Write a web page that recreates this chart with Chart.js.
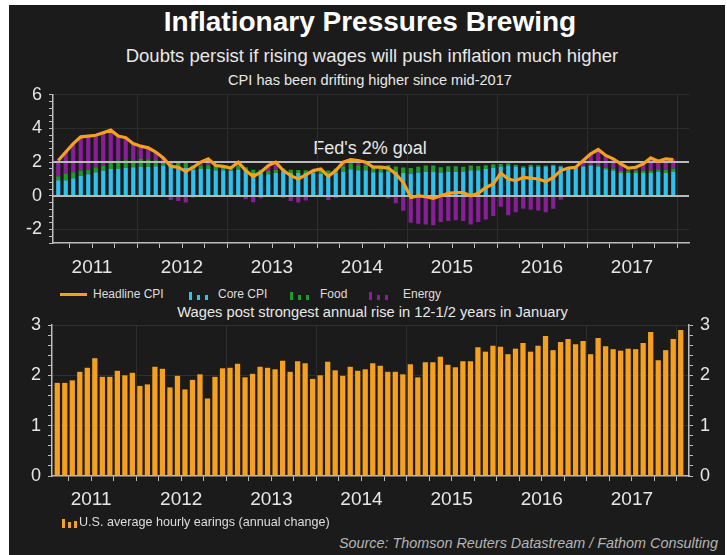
<!DOCTYPE html>
<html><head><meta charset="utf-8">
<script src="https://cdn.jsdelivr.net/npm/chart.js@4.4.0/dist/chart.umd.min.js"></script>
<style>
html,body{margin:0;padding:0;background:#fff;width:727px;height:555px;overflow:hidden;font-family:"Liberation Sans",Arial,sans-serif;}
#panel{position:absolute;left:9px;top:5px;width:716px;height:550px;background:#1b1b1b;}
.t{position:absolute;white-space:nowrap;color:#e8e8e8;line-height:1;}
canvas{position:absolute;left:0;}
.ic{position:absolute;height:10px;}
.ic i{position:absolute;bottom:0;width:3px;display:block;}
</style></head><body>
<div id="panel"></div>
<div class="t" style="left:0;width:740px;top:8px;text-align:center;font-size:28px;font-weight:bold;color:#fff">Inflationary Pressures Brewing</div>
<div class="t" style="left:0;width:744px;top:47px;text-align:center;font-size:18.5px;">Doubts persist if rising wages will push inflation much higher</div>
<div class="t" style="left:0;width:740px;top:73px;text-align:center;font-size:14.6px;">CPI has been drifting higher since mid-2017</div>
<div class="t" style="left:0;width:740px;top:139px;text-align:center;font-size:18px;">Fed's 2% goal</div>
<div class="t" style="left:0;width:745px;top:305px;text-align:center;font-size:14.7px;">Wages post strongest annual rise in 12-1/2 years in January</div>

<canvas id="top" width="727" height="208" style="top:77px"></canvas>
<canvas id="bot" width="727" height="215" style="top:305px"></canvas>

<!-- legends -->
<div style="position:absolute;left:60px;top:293px;width:27px;height:3px;background:#f5a01f"></div>
<div class="t" style="left:93px;top:288px;font-size:12px;color:#ddd">Headline CPI</div>
<div class="ic" style="left:189px;top:290px;"><i style="left:0;height:8px;background:#2ec1ee"></i><i style="left:8px;height:5px;background:#2ec1ee"></i><i style="left:16px;height:5px;background:#2ec1ee"></i></div>
<div class="t" style="left:218px;top:288px;font-size:12px;color:#ddd">Core CPI</div>
<div class="ic" style="left:290px;top:290px;"><i style="left:0;height:8px;background:#1f9a2c"></i><i style="left:8px;height:5px;background:#1f9a2c"></i><i style="left:16px;height:5px;background:#1f9a2c"></i></div>
<div class="t" style="left:320px;top:288px;font-size:12px;color:#ddd">Food</div>
<div class="ic" style="left:369px;top:290px;"><i style="left:0;height:8px;background:#8a1d99"></i><i style="left:8px;height:5px;background:#8a1d99"></i><i style="left:16px;height:5px;background:#8a1d99"></i></div>
<div class="t" style="left:403px;top:288px;font-size:12px;color:#ddd">Energy</div>

<div class="ic" style="left:62px;top:518px;"><i style="left:0;height:9px;background:#f5a01f"></i><i style="left:6px;height:6px;background:#f5a01f"></i><i style="left:12px;height:7px;background:#f5a01f"></i></div>
<div class="t" style="left:79px;top:516px;font-size:12.6px;color:#ddd">U.S. average hourly earings (annual change)</div>
<div class="t" style="right:9px;top:536px;font-size:14.4px;font-style:italic;color:#b5b5b5">Source: Thomson Reuters Datastream / Fathom Consulting</div>

<script>
// ---------- categories ----------
const monthNames = ['Jan','Feb','Mar','Apr','May','Jun','Jul','Aug','Sep','Oct','Nov','Dec'];
const months = []; // Feb 2011 .. Jan 2018
for (let i = 0; i < 84; i++) { const t = i + 1; months.push(monthNames[t % 12] + ' ' + (2011 + Math.floor(t / 12))); }
const cpiMonths = months.slice(0, 83); // Feb 2011 .. Dec 2017
const yearLabels = ['2011','2012','2013','2014','2015','2016','2017'];

// ---------- series (contributions, % pts) ----------
const headlineCPI = [
 2.1, 2.6, 3.1, 3.5, 3.55, 3.6, 3.75, 3.9, 3.55, 3.45, 3.1,
 2.95, 2.85, 2.6, 2.25, 1.75, 1.7, 1.45, 1.7, 2.0, 2.2, 1.8, 1.75,
 1.65, 2.0, 1.5, 1.15, 1.4, 1.8, 2.0, 1.5, 1.2, 1.0, 1.25, 1.5,
 1.6, 1.15, 1.5, 2.0, 2.15, 2.1, 2.0, 1.7, 1.7, 1.65, 1.3, 0.8,
 -0.1, 0.0, -0.05, -0.15, 0.0, 0.15, 0.2, 0.2, 0.0, 0.15, 0.5, 0.7,
 1.35, 1.0, 0.9, 1.1, 1.05, 1.0, 0.85, 1.1, 1.5, 1.65, 1.7, 2.1,
 2.5, 2.75, 2.4, 2.2, 1.9, 1.65, 1.7, 1.9, 2.25, 2.05, 2.2, 2.15
];
const coreCPI = [
 0.92, 0.92, 1.05, 1.2, 1.28, 1.4, 1.5, 1.6, 1.6, 1.66, 1.7,
 1.74, 1.72, 1.76, 1.78, 1.82, 1.74, 1.66, 1.55, 1.6, 1.6, 1.52, 1.52,
 1.5, 1.56, 1.5, 1.35, 1.35, 1.28, 1.35, 1.42, 1.35, 1.35, 1.35, 1.35,
 1.3, 1.3, 1.38, 1.45, 1.58, 1.52, 1.52, 1.4, 1.4, 1.46, 1.42, 1.36,
 1.3, 1.38, 1.45, 1.45, 1.38, 1.45, 1.45, 1.45, 1.52, 1.52, 1.6, 1.68,
 1.74, 1.8, 1.74, 1.66, 1.74, 1.74, 1.74, 1.8, 1.74, 1.66, 1.66, 1.74,
 1.8, 1.74, 1.58, 1.5, 1.36, 1.36, 1.36, 1.36, 1.36, 1.42, 1.36, 1.42
];
const foodCPI = [
 0.25, 0.4, 0.35, 0.3, 0.25, 0.3, 0.3, 0.4, 0.5, 0.45, 0.4,
 0.45, 0.45, 0.35, 0.25, 0.15, 0.25, 0.3, 0.25, 0.2, 0.22, 0.25, 0.25,
 0.22, 0.22, 0.2, 0.2, 0.2, 0.2, 0.2, 0.2, 0.2, 0.18, 0.17, 0.15,
 0.2, 0.2, 0.25, 0.3, 0.35, 0.3, 0.3, 0.3, 0.33, 0.35, 0.32, 0.33,
 0.35, 0.35, 0.35, 0.35, 0.32, 0.3, 0.3, 0.28, 0.28, 0.25, 0.22, 0.2,
 0.15, 0.12, 0.1, 0.1, 0.1, 0.08, 0.06, 0.05, 0.04, 0.03, 0.02, 0.02,
 0.05, 0.08, 0.1, 0.12, 0.12, 0.14, 0.15, 0.15, 0.15, 0.16, 0.18, 0.2
];
const energyCPI = [
 0.93, 1.28, 1.7, 2.0, 2.02, 1.9, 1.95, 1.9, 1.45, 1.34, 1.0,
 0.76, 0.68, 0.49, 0.22, -0.25, -0.3, -0.4, -0.1, 0.2, 0.38, 0.03, -0.02,
 -0.07, 0.22, -0.2, -0.38, -0.15, 0.32, 0.45, -0.12, -0.3, -0.4, -0.27, 0.0,
 0.1, -0.25, -0.13, 0.25, 0.22, 0.28, 0.18, 0.0, -0.03, -0.16, -0.44, -0.89,
 -1.6, -1.65, -1.7, -1.75, -1.55, -1.5, -1.45, -1.5, -1.7, -1.55, -1.4, -1.2,
 -0.65, -1.15, -0.97, -0.77, -0.83, -0.87, -0.97, -0.77, -0.23, -0.05, 0.02, 0.3,
 0.62, 0.95, 0.75, 0.6, 0.42, 0.15, 0.2, 0.4, 0.72, 0.48, 0.65, 0.55
];
const wages = [
 1.85, 1.85, 1.9, 2.07, 2.15, 2.34, 1.97, 1.97, 2.09, 2.0, 2.05, 1.79, 1.82,
 2.17, 2.13, 1.76, 1.99, 1.72, 1.91, 2.02, 1.54, 1.97, 2.14, 2.15, 2.23, 1.96,
 2.03, 2.17, 2.15, 2.12, 2.29, 2.07, 2.28, 2.24, 1.93, 2.0, 2.27, 2.1, 1.99,
 2.17, 2.09, 2.12, 2.24, 2.19, 2.07, 2.07, 2.02, 2.22, 1.96, 2.26, 2.26, 2.37,
 2.21, 2.16, 2.28, 2.28, 2.56, 2.47,
 2.59, 2.57, 2.42, 2.53, 2.64, 2.47, 2.59, 2.78, 2.5, 2.66, 2.72, 2.62, 2.68,
 2.42, 2.74, 2.58, 2.52, 2.49, 2.53, 2.52, 2.64, 2.86, 2.30, 2.50, 2.72, 2.90
];
const fedGoal = 2;

// ---------- tick positions derived from the month categories ----------
const quarterTicks = [], yearTicks = [], midYearTicks = [];
months.forEach((m, i) => {
  const mn = m.slice(0, 3);
  if (['Jan','Apr','Jul','Oct'].includes(mn)) quarterTicks.push(i - 0.5);
  if (mn === 'Jan') yearTicks.push(i - 0.5);
  if (mn === 'Jul') midYearTicks.push(i - 0.5);
});
const near = (a, b) => Math.abs(a - b) < 1e-6;
const xMin = -0.7, xMax = 84.1;

Chart.defaults.font.family = '"Liberation Sans", Arial, sans-serif';
Chart.defaults.color = '#e6e6e6';
const AX = '#bdbdbd';

function xScale(h, pad) {
  return {
    type: 'linear', min: xMin, max: xMax, offset: false, stacked: true,
    grid: { offset: false, color: c => yearTicks.some(v => near(v, c.tick.value)) ? '#2e2e2e' : 'rgba(0,0,0,0)', tickColor: AX, tickLength: 5 },
    border: { color: AX, width: 1.5 },
    ticks: { autoSkip: false, maxRotation: 0, padding: pad, font: { size: 19 }, color: '#e6e6e6',
      callback: v => { const k = midYearTicks.findIndex(t => near(t, v)); return k >= 0 ? yearLabels[k] : ''; } },
    afterBuildTicks: s => { s.ticks = quarterTicks.map(v => ({ value: v })); },
    afterFit: s => { s.height = h; }
  };
}

// ---------- top chart ----------
const topTicks = []; for (let n = -7; n <= 15; n++) topTicks.push(Math.round(n * 4) / 10);
const refLines = {
  id: 'refLines',
  beforeDatasetDraw(chart, args) {
    if (args.meta.type !== 'line') return;
    const { ctx, chartArea, scales } = chart;
    ctx.save(); ctx.strokeStyle = '#b9b9b9'; ctx.lineWidth = 2;
    [0, fedGoal].forEach(v => { const y = Math.round(scales.y.getPixelForValue(v)); ctx.beginPath(); ctx.moveTo(chartArea.left, y); ctx.lineTo(chartArea.right, y); ctx.stroke(); });
    ctx.restore();
  }
};
const idx83 = cpiMonths.map((m, i) => i);
new Chart(document.getElementById('top'), {
  type: 'bar',
  data: {
    labels: idx83,
    datasets: [
      { type: 'line', label: 'Headline CPI', data: headlineCPI, yAxisID: 'y2', borderColor: '#f5a01f', borderWidth: 3.2, pointRadius: 0, tension: 0, order: 0 },
      { label: 'Core CPI', data: coreCPI, backgroundColor: '#2ec1ee', stack: 'c', categoryPercentage: 1, barPercentage: 0.56, order: 1 },
      { label: 'Food', data: foodCPI, backgroundColor: '#1f9a2c', stack: 'c', categoryPercentage: 1, barPercentage: 0.56, order: 1 },
      { label: 'Energy', data: energyCPI, backgroundColor: '#8a1d99', stack: 'c', categoryPercentage: 1, barPercentage: 0.56, order: 1 }
    ]
  },
  options: {
    responsive: false, animation: false, devicePixelRatio: 1,
    layout: { padding: { left: 0, right: 38, top: 0, bottom: 0 } },
    plugins: { legend: { display: false }, tooltip: { enabled: false } },
    scales: {
      x: xScale(42, 8),
      y: { min: -2.8, max: 6, stacked: true,
        afterBuildTicks: s => { s.ticks = topTicks.map(v => ({ value: v })); },
        ticks: { autoSkip: false, padding: 7, font: { size: 18 }, color: '#e6e6e6',
          callback: v => (near(v, Math.round(v)) && Math.round(v) % 2 === 0) ? String(Math.round(v)) : '' },
        grid: { color: c => { const v = c.tick.value; return ([-2, 4, 6].some(t => near(t, v))) ? '#2c2c2c' : 'rgba(0,0,0,0)'; }, tickColor: AX, tickLength: 4 },
        border: { color: AX, width: 1.5 },
        afterFit: s => { s.width = 53; } },
      y2: { display: false, min: -2.8, max: 6 }
    }
  },
  plugins: [refLines]
});

// ---------- bottom chart ----------
const botTicks = []; for (let n = 0; n <= 15; n++) botTicks.push(Math.round(n * 2) / 10);
function botY(pos, w) {
  return { position: pos, min: 0, max: 3,
    afterBuildTicks: s => { s.ticks = botTicks.map(v => ({ value: v })); },
    ticks: { autoSkip: false, padding: 7, font: { size: 18 }, color: '#e6e6e6',
      callback: v => near(v, Math.round(v)) ? String(Math.round(v)) : '' },
    grid: { drawOnChartArea: pos === 'left', color: c => { const v = c.tick.value; return ([1, 2, 3].some(t => near(t, v))) ? '#303030' : 'rgba(0,0,0,0)'; }, tickColor: AX, tickLength: 4 },
    border: { color: AX, width: 1.5 },
    afterFit: s => { s.width = w; } };
}
new Chart(document.getElementById('bot'), {
  type: 'bar',
  data: {
    labels: months.map((m, i) => i),
    datasets: [
      { label: 'U.S. average hourly earings (annual change)', data: wages, backgroundColor: '#f5a01f', borderWidth: 0, categoryPercentage: 1, barPercentage: 0.7 }
    ]
  },
  options: {
    responsive: false, animation: false, devicePixelRatio: 1,
    layout: { padding: { left: 0, right: 0, top: 20, bottom: 0 } },
    plugins: { legend: { display: false }, tooltip: { enabled: false } },
    scales: {
      x: xScale(44, 7),
      y: botY('left', 52),
      yR: botY('right', 38)
    }
  }
});
</script>
</body></html>
